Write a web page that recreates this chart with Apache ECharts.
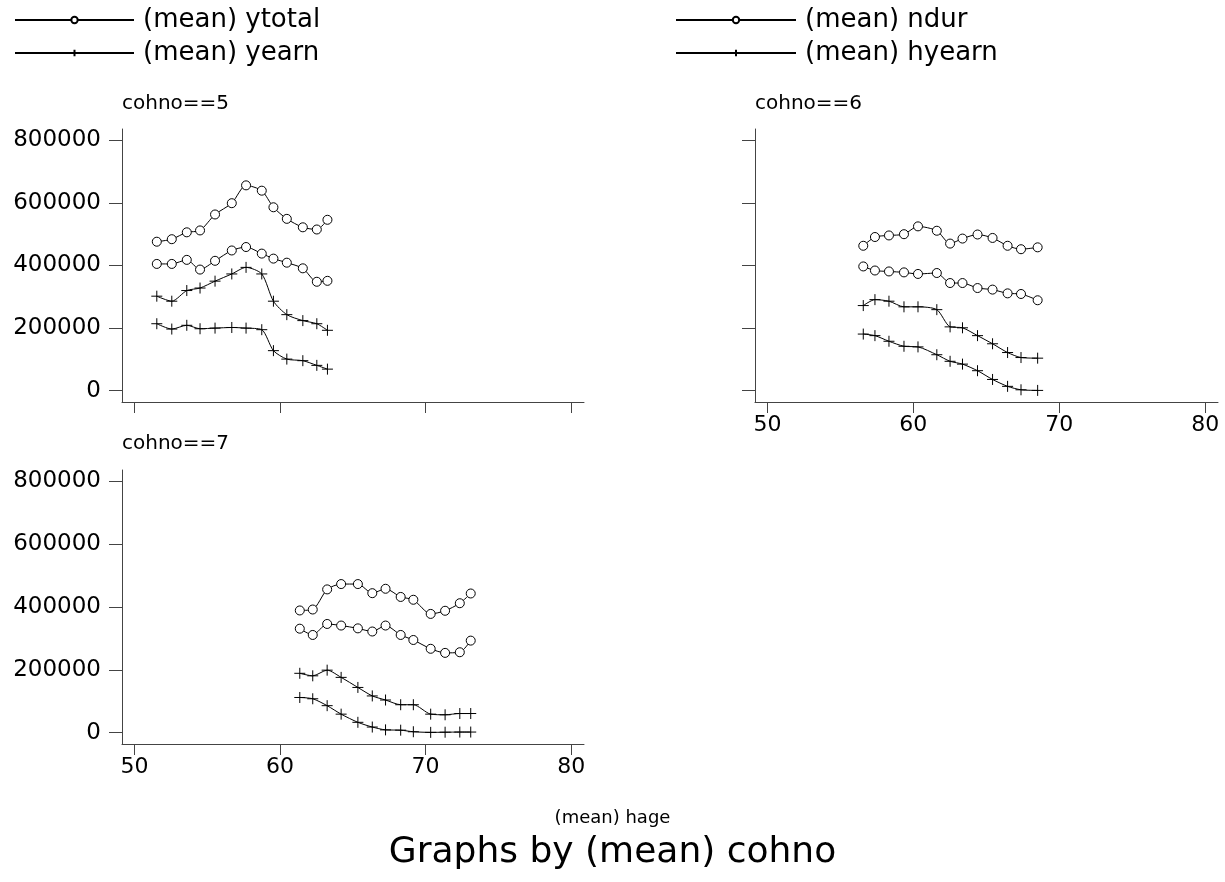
<!DOCTYPE html>
<html>
<head>
<meta charset="utf-8">
<script src="https://cdn.jsdelivr.net/npm/echarts@6/dist/echarts.min.js"></script>
<style>
html,body{margin:0;padding:0;background:#fff;}
#main{width:1225px;height:882px;}
</style>
</head>
<body>
<div id="main"></div>
<script>
// axis ticks
var xTicks = [50, 60, 70, 80];
var yTicks = [0, 200000, 400000, 600000, 800000];

// cohno==5
var ages5 = [51.54, 52.57, 53.6, 54.51, 55.54, 56.69, 57.67, 58.75, 59.55, 60.47, 61.57, 62.53, 63.26];
var ytotal5 = [476000, 484000, 506000, 512000, 563000, 599000, 656000, 639000, 586000, 549000, 522000, 515000, 546000];
var ndur5 = [405000, 405000, 418000, 387000, 415000, 448000, 459000, 438000, 422000, 409000, 391000, 348000, 351000];
var yearn5 = [302000, 286000, 320000, 328000, 350000, 373000, 394000, 373000, 286000, 243000, 224000, 214000, 193000];
var hyearn5 = [214000, 197000, 209000, 198000, 200000, 202000, 200000, 195000, 128000, 101000, 96000, 81000, 69000];

// cohno==6
var ages6 = [56.57, 57.37, 58.33, 59.36, 60.32, 61.61, 62.52, 63.37, 64.40, 65.43, 66.46, 67.38, 68.52];
var ytotal6 = [463000, 491000, 496000, 500000, 525000, 511000, 470000, 486000, 499000, 488000, 463000, 452000, 458000];
var ndur6 = [397000, 384000, 381000, 378000, 373000, 376000, 344000, 344000, 328000, 323000, 311000, 309000, 289000];
var yearn6 = [272000, 291000, 286000, 268000, 268000, 259000, 204000, 201000, 176000, 150000, 122000, 106000, 104000];
var hyearn6 = [181000, 176000, 158000, 142000, 140000, 115000, 94000, 85000, 64000, 36000, 14000, 3000, 1000];

// cohno==7
var ages7 = [61.36, 62.25, 63.24, 64.2, 65.35, 66.34, 67.25, 68.29, 69.16, 70.35, 71.34, 72.35, 73.1];
var ytotal7 = [389000, 392000, 456000, 473000, 473000, 444000, 458000, 432000, 423000, 378000, 388000, 412000, 443000];
var ndur7 = [331000, 311000, 346000, 341000, 332000, 322000, 341000, 311000, 295000, 267000, 254000, 256000, 293000];
var yearn7 = [189000, 181000, 199000, 176000, 144000, 117000, 104000, 89000, 89000, 59000, 57000, 61000, 61000];
var hyearn7 = [112000, 108000, 86000, 59000, 33000, 18000, 9000, 8000, 3000, 1000, 1500, 2000, 2000];

var FONT = 'DejaVu Sans';
var PLUS = 'path://M0,5L10,5M5,0L5,10';

function pairs(xs, ys){
	var out = [];
	for(var i in xs){
		out.push([xs[i], ys[i]]);
	}
	return out;
}

function line(name, xs, ys, idx, sym){
	return {
		name: name,
		type: 'line',
		xAxisIndex: idx,
		yAxisIndex: idx,
		data: pairs(xs, ys),
		symbol: sym == 'o' ? 'circle' : PLUS,
		symbolSize: sym == 'o' ? 9 : 11,
		smooth: 0.25,
		silent: true,
		lineStyle: {color: '#000', width: 1},
		itemStyle: {color: '#fff', borderColor: '#000', borderWidth: 1}
	};
}

function xAxis(idx, showLabel){
	return {
		type: 'value', gridIndex: idx, min: 49.15, max: 80.88,
		axisLine: {show: true, onZero: false, lineStyle: {color: '#444', width: 1}},
		axisTick: {show: true, length: 11, customValues: xTicks, lineStyle: {color: '#444'}},
		axisLabel: {show: showLabel, customValues: xTicks, margin: 12, color: '#000', fontSize: 22, fontFamily: FONT},
		splitLine: {show: false}
	};
}

function yAxis(idx, showLabel){
	return {
		type: 'value', gridIndex: idx, min: -36000, max: 836000,
		axisLine: {show: true, onZero: false, lineStyle: {color: '#444', width: 1}},
		axisTick: {show: true, length: 13, customValues: yTicks, lineStyle: {color: '#444'}},
		axisLabel: {show: showLabel, customValues: yTicks, margin: 21, color: '#000', fontSize: 23, fontFamily: FONT,
			formatter: function(v){ return String(v); }},
		splitLine: {show: false}
	};
}

function titleText(text, left, top, size){
	return {text: text, left: left, top: top, padding: 0,
		textStyle: {fontSize: size, fontWeight: 'normal', color: '#000', fontFamily: FONT}};
}

var legendText = {fontSize: 26, color: '#000', fontFamily: FONT, padding: [0, 0, 0, 4]};

var myChart = echarts.init(document.getElementById('main'));
var option = {
	animation: false,
	backgroundColor: '#fff',
	title: [
		titleText('cohno==5', 122, 94, 20),
		titleText('cohno==6', 755, 94, 20),
		titleText('cohno==7', 122, 434, 20),
		titleText('(mean) hage', 'center', 809, 18),
		titleText('Graphs by (mean) cohno', 'center', 835, 36)
	],
	legend: [
		{data: ['(mean) ytotal', '(mean) yearn'], orient: 'vertical', left: 9, top: 2,
		 itemWidth: 119, itemHeight: 8, itemGap: 7, textStyle: legendText, selectedMode: false},
		{data: ['(mean) ndur', '(mean) hyearn'], orient: 'vertical', left: 670, top: 2,
		 itemWidth: 120, itemHeight: 8, itemGap: 7, textStyle: legendText, selectedMode: false}
	],
	grid: [
		{left: 122, top: 129, width: 462, height: 273},
		{left: 755, top: 129, width: 463, height: 273},
		{left: 122, top: 470, width: 462, height: 274}
	],
	xAxis: [xAxis(0, false), xAxis(1, true), xAxis(2, true)],
	yAxis: [yAxis(0, true), yAxis(1, false), yAxis(2, true)],
	series: [
		line('(mean) ytotal', ages5, ytotal5, 0, 'o'),
		line('(mean) ndur', ages5, ndur5, 0, 'o'),
		line('(mean) yearn', ages5, yearn5, 0, '+'),
		line('(mean) hyearn', ages5, hyearn5, 0, '+'),
		line('(mean) ytotal', ages6, ytotal6, 1, 'o'),
		line('(mean) ndur', ages6, ndur6, 1, 'o'),
		line('(mean) yearn', ages6, yearn6, 1, '+'),
		line('(mean) hyearn', ages6, hyearn6, 1, '+'),
		line('(mean) ytotal', ages7, ytotal7, 2, 'o'),
		line('(mean) ndur', ages7, ndur7, 2, 'o'),
		line('(mean) yearn', ages7, yearn7, 2, '+'),
		line('(mean) hyearn', ages7, hyearn7, 2, '+')
	]
};
myChart.setOption(option);
</script>
</body>
</html>
